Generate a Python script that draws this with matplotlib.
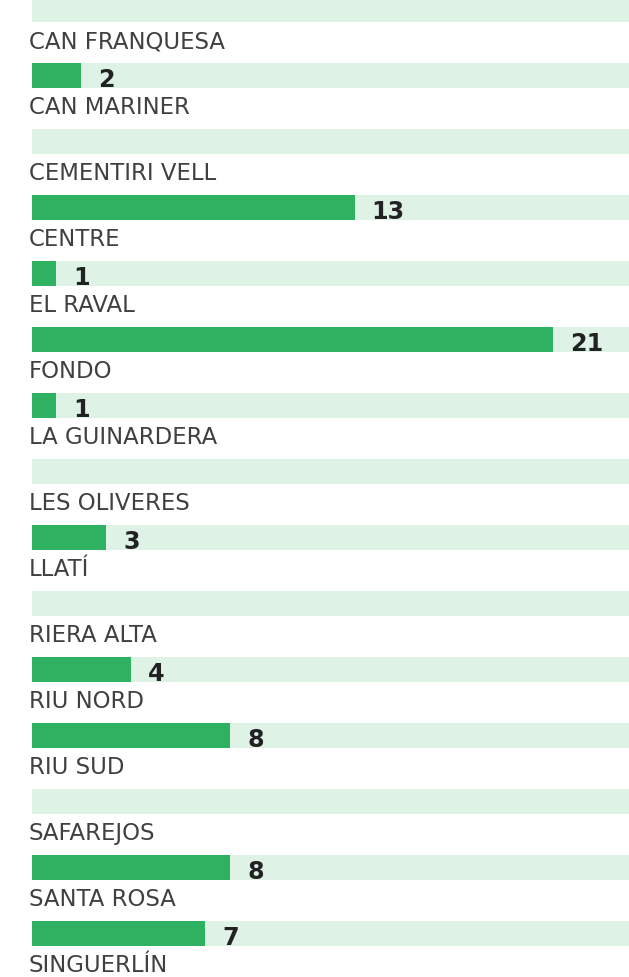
import matplotlib.pyplot as plt

# casos por barrio (la etiqueta va debajo de cada barra)
barrios = ['CAN FRANQUESA', 'CAN MARINER', 'CEMENTIRI VELL', 'CENTRE', 'EL RAVAL',
           'FONDO', 'LA GUINARDERA', 'LES OLIVERES', 'LLATÍ', 'RIERA ALTA',
           'RIU NORD', 'RIU SUD', 'SAFAREJOS', 'SANTA ROSA', 'SINGUERLÍN']
casos = [0, 2, 0, 13, 1, 21, 1, 0, 3, 0, 4, 8, 0, 8, 7]

W, H, DPI = 629, 978, 100
ROW_PX = 66          # separacion entre filas
BAR_PX = 25          # alto de la barra
LEFT_PX = 31.5       # margen izquierdo
PX_PER_UNIT = 24.85  # pixeles por caso
FIRST_CENTER = 10.5  # centro de la primera barra (recortada arriba)

verde = '#2eb160'
fondo = '#def2e6'

fig = plt.figure(figsize=(W / DPI, H / DPI), dpi=DPI)
ax = fig.add_axes([0, 0, 1, 1])
xmax = (W - LEFT_PX) / PX_PER_UNIT
ax.set_xlim(-LEFT_PX / PX_PER_UNIT, xmax)
ax.set_ylim((H - FIRST_CENTER) / ROW_PX, -FIRST_CENTER / ROW_PX)
ax.axis('off')

filas = list(range(len(barrios)))
ax.barh(filas, [xmax] * len(filas), height=BAR_PX / ROW_PX, color=fondo, linewidth=0)
ax.barh(filas, casos, height=BAR_PX / ROW_PX, color=verde, linewidth=0)

for i, (nombre, v) in enumerate(zip(barrios, casos)):
    if v > 0:
        ax.text(v + 17 / PX_PER_UNIT, i + 10.8 / ROW_PX, str(v), fontsize=17.2,
                fontweight='bold', va='baseline', ha='left', color='#222222')
    ax.text(-2.5 / PX_PER_UNIT, i + 37.8 / ROW_PX, nombre, fontsize=16.4,
            va='baseline', ha='left', color='#404040')

fig.savefig('out.png', dpi=DPI)
